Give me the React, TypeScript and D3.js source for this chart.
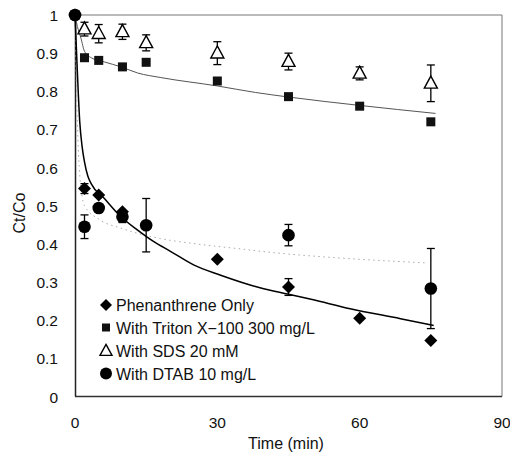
import React from "react";
import * as d3 from "d3";

const xTicks = [0, 30, 60, 90];
const yTicks = [0, 0.1, 0.2, 0.3, 0.4, 0.5, 0.6, 0.7, 0.8, 0.9, 1];

const phenT = [0, 2, 5, 10, 30, 45, 60, 75];
const phenY = [1, 0.545, 0.528, 0.484, 0.36, 0.287, 0.205, 0.147];
const phenErr = [0, 0.013, 0, 0, 0, 0.022, 0, 0];

const tritonT = [0, 2, 5, 10, 15, 30, 45, 60, 75];
const tritonY = [1, 0.888, 0.881, 0.864, 0.876, 0.827, 0.786, 0.761, 0.72];

const sdsT = [2, 5, 10, 15, 30, 45, 60, 75];
const sdsY = [0.963, 0.951, 0.956, 0.927, 0.9, 0.878, 0.847, 0.821];
const sdsErr = [0.018, 0.024, 0.02, 0.021, 0.03, 0.022, 0.017, 0.048];

const dtabT = [0, 2, 5, 10, 15, 45, 75];
const dtabY = [1, 0.445, 0.494, 0.471, 0.449, 0.423, 0.283];
const dtabErr = [0, 0.031, 0, 0.015, 0.07, 0.028, 0.105];

const phenFitT = [0, 0.5, 1, 1.5, 2, 2.7, 3.4, 6.2, 9.7, 13.2, 16.7, 20.2, 25, 30.7, 39, 45, 50, 58, 68.6, 75.6];
const phenFitY = [1, 0.85, 0.72, 0.655, 0.615, 0.578, 0.558, 0.519, 0.471, 0.436, 0.405, 0.38, 0.345, 0.318, 0.285, 0.268, 0.254, 0.23, 0.204, 0.186];

const tritonFitT = [0, 0.5, 1.26, 2, 3.4, 6.2, 9.7, 13.2, 18.1, 30, 38, 45, 60, 76];
const tritonFitY = [1, 0.97, 0.939, 0.905, 0.888, 0.877, 0.864, 0.848, 0.836, 0.814, 0.797, 0.785, 0.763, 0.742];

const dtabFitT = [0, 0.5, 1, 2, 5, 10, 18, 25, 34, 42, 54.6, 59.5, 74.3];
const dtabFitY = [1, 0.72, 0.58, 0.5, 0.465, 0.44, 0.414, 0.401, 0.388, 0.377, 0.364, 0.36, 0.35];

const legendLabels = [
  "Phenanthrene Only",
  "With Triton X\u2212100 300 mg/L",
  "With SDS 20 mM",
  "With DTAB 10 mg/L",
];

const FONT = "'Liberation Sans', Arial, Helvetica, sans-serif";

const x = d3.scaleLinear().domain([0, 90]).range([75, 502]);
const y = d3.scaleLinear().domain([0, 1]).range([396.5, 15]);

const diamond = (cx: number, cy: number, r = 6.5) =>
  `M${cx},${cy - r}L${cx + r},${cy}L${cx},${cy + r}L${cx - r},${cy}Z`;
const triangle = (cx: number, cy: number, w = 13, h = 12) =>
  `M${cx},${cy - h * 0.6}L${cx + w / 2},${cy + h * 0.4}L${cx - w / 2},${cy + h * 0.4}Z`;

function ErrBar({ cx, v, e }: { cx: number; v: number; e: number }) {
  if (!e) return null;
  const cap = 4;
  return (
    <g stroke="#000" strokeWidth={1.3}>
      <line x1={cx} x2={cx} y1={y(v + e)} y2={y(v - e)} />
      <line x1={cx - cap} x2={cx + cap} y1={y(v + e)} y2={y(v + e)} />
      <line x1={cx - cap} x2={cx + cap} y1={y(v - e)} y2={y(v - e)} />
    </g>
  );
}

export default function App() {
  const line = d3
    .line<[number, number]>()
    .x((d) => x(d[0]))
    .y((d) => y(d[1]))
    .curve(d3.curveMonotoneX);
  const zip = (a: number[], b: number[]) => a.map((t, i) => [t, b[i]] as [number, number]);

  const legendY = [305, 327.5, 350.5, 373.5];

  return (
    <svg
      width={510}
      height={455}
      style={{ position: "absolute", left: 0, top: 0, background: "#fff" }}
      fontFamily={FONT}
    >
      <rect x={0} y={0} width={510} height={455} fill="#fff" />
      {/* frame */}
      <line x1={75} x2={502} y1={15} y2={15} stroke="#777" strokeWidth={1} />
      <line x1={502} x2={502} y1={15} y2={396.5} stroke="#777" strokeWidth={1} />
      <line x1={75} x2={502} y1={396.5} y2={396.5} stroke="#333" strokeWidth={1.3} />
      <line x1={75.5} x2={75.5} y1={15} y2={396.5} stroke="#222" strokeWidth={1.5} />

      {/* tick labels */}
      {yTicks.map((t) => (
        <text key={t} x={58} y={y(t) + 6} textAnchor="end" fontSize={15.5} fill="#111">
          {t === 0 || t === 1 ? String(t) : t.toFixed(1)}
        </text>
      ))}
      {xTicks.map((t) => (
        <text key={t} x={x(t)} y={428} textAnchor="middle" fontSize={15.5} fill="#111">
          {t}
        </text>
      ))}
      <text x={286} y={449} textAnchor="middle" fontSize={16} fill="#111">
        Time (min)
      </text>
      <text
        transform="translate(24.5,213) rotate(-90)"
        textAnchor="middle"
        fontSize={16}
        fill="#111"
      >
        Ct/Co
      </text>

      {/* fitted curves */}
      <path
        d={line(zip(dtabFitT, dtabFitY)) || ""}
        fill="none"
        stroke="#aaa"
        strokeWidth={1}
        strokeDasharray="1.5 3.5"
      />
      <path d={line(zip(tritonFitT, tritonFitY)) || ""} fill="none" stroke="#555" strokeWidth={1} />
      <path d={line(zip(phenFitT, phenFitY)) || ""} fill="none" stroke="#000" strokeWidth={1.5} />

      {/* SDS */}
      {sdsT.map((t, i) => (
        <g key={"s" + i}>
          <ErrBar cx={x(t)} v={sdsY[i]} e={sdsErr[i]} />
          <path d={triangle(x(t), y(sdsY[i]))} fill="#fff" stroke="#000" strokeWidth={1.4} />
        </g>
      ))}
      {/* Triton */}
      {tritonT.map((t, i) => (
        <rect key={"t" + i} x={x(t) - 4.5} y={y(tritonY[i]) - 4.5} width={9} height={9} fill="#111" />
      ))}
      {/* Phenanthrene */}
      {phenT.map((t, i) => (
        <g key={"p" + i}>
          <ErrBar cx={x(t)} v={phenY[i]} e={phenErr[i]} />
          <path d={diamond(x(t), y(phenY[i]))} fill="#000" />
        </g>
      ))}
      {/* DTAB */}
      {dtabT.map((t, i) => (
        <g key={"d" + i}>
          <ErrBar cx={x(t)} v={dtabY[i]} e={dtabErr[i]} />
          <circle cx={x(t)} cy={y(dtabY[i])} r={6.3} fill="#000" />
        </g>
      ))}

      {/* legend */}
      <g>
        <path d={diamond(106, legendY[0], 6)} fill="#000" />
        <rect x={102} y={legendY[1] - 4} width={8} height={8} fill="#111" />
        <path d={triangle(106, legendY[2] + 0.5, 12, 11)} fill="#fff" stroke="#000" strokeWidth={1.4} />
        <circle cx={106} cy={legendY[3]} r={6} fill="#000" />
        {legendLabels.map((l, i) => (
          <text key={l} x={116} y={legendY[i] + 6} fontSize={16} fill="#111">
            {l}
          </text>
        ))}
      </g>
    </svg>
  );
}
